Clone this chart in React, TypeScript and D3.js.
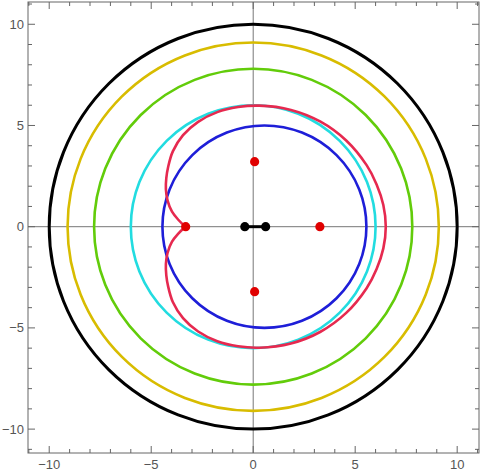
import React from "react";
import * as d3 from "d3";

const W = 480;
const H = 473;

// circles: center x, radius, colour, width
const circleCx = [0, 0, 0, 0, 0.55];
const circleR = [10, 9.1, 7.8, 6.0, 5.0];
const circleColors = ["#000000", "#D8BC00", "#62CC0A", "#22DCE0", "#1E1ED8"];
const circleWidths = [3, 2.6, 2.6, 2.6, 2.6];

// red curve, upper half, mirrored for lower half
const redUpper: [number, number][] = [
  [-3.33, 0], [-3.66, 0.33], [-3.98, 0.74], [-4.2, 1.3], [-4.28, 1.85],
  [-4.26, 2.4], [-4.17, 2.95], [-3.94, 3.72], [-3.44, 4.52], [-2.7, 5.18],
  [-1.76, 5.66], [-0.74, 5.91], [0.3, 5.98], [1.85, 5.77], [3.3, 5.19],
  [4.56, 4.26], [5.56, 3.04], [6.05, 2.09], [6.38, 1.07], [6.5, 0],
];

const redDots: [number, number][] = [[0.07, 3.21], [0.07, -3.21], [3.27, 0], [-3.31, 0]];
const blackDots: [number, number][] = [[-0.41, 0], [0.61, 0]];

const majorTicks = [-10, -5, 0, 5, 10];
const minorTicks = d3.range(-11, 12).filter((v) => v % 5 !== 0);

export default function App() {
  const left = 28, right = 479, top = 2, bottom = 453;
  const x = d3.scaleLinear().domain([-11.04, 11.07]).range([left, right]);
  const y = d3.scaleLinear().domain([-11.18, 11.1]).range([bottom, top]);

  const redAll: [number, number][] = [
    ...redUpper,
    ...redUpper.slice(0, -1).reverse().map(([a, b]) => [a, -b] as [number, number]),
  ];
  const redPath = d3
    .line<[number, number]>()
    .x((d) => x(d[0]))
    .y((d) => y(d[1]))
    .curve(d3.curveCatmullRom.alpha(0.5))(redAll) as string;

  const frameColor = "#666";
  const labelColor = "#555";
  const font = "Liberation Sans, Arial, sans-serif";

  return (
    <svg
      width={W}
      height={H}
      style={{ position: "absolute", left: 0, top: 0, background: "#fff" }}
    >
      <rect x={0} y={0} width={W} height={H} fill="#fff" />
      {/* axes through origin */}
      <line x1={left} x2={right} y1={y(0)} y2={y(0)} stroke="#777" strokeWidth={1} />
      <line x1={x(0)} x2={x(0)} y1={top} y2={bottom} stroke="#777" strokeWidth={1} />

      {circleR.map((r, i) => (
        <ellipse
          key={i}
          cx={x(circleCx[i])}
          cy={y(0)}
          rx={x(r) - x(0)}
          ry={y(0) - y(r)}
          fill="none"
          stroke={circleColors[i]}
          strokeWidth={circleWidths[i]}
        />
      ))}
      <path d={redPath} fill="none" stroke="#E6294F" strokeWidth={2.6} />

      <line
        x1={x(blackDots[0][0])}
        x2={x(blackDots[1][0])}
        y1={y(0)}
        y2={y(0)}
        stroke="#000"
        strokeWidth={3}
      />
      {blackDots.map((d, i) => (
        <circle key={"b" + i} cx={x(d[0])} cy={y(d[1])} r={4.6} fill="#000" />
      ))}
      {redDots.map((d, i) => (
        <circle key={"r" + i} cx={x(d[0])} cy={y(d[1])} r={4.6} fill="#E00000" />
      ))}

      {/* frame */}
      <rect x={left} y={top} width={right - left} height={bottom - top} fill="none" stroke={frameColor} strokeWidth={1} />
      {majorTicks.map((t) => (
        <g key={"M" + t}>
          <line x1={x(t)} x2={x(t)} y1={bottom} y2={bottom - 7} stroke={frameColor} />
          <line x1={x(t)} x2={x(t)} y1={top} y2={top + 7} stroke={frameColor} />
          <line x1={left} x2={left + 7} y1={y(t)} y2={y(t)} stroke={frameColor} />
          <line x1={right} x2={right - 7} y1={y(t)} y2={y(t)} stroke={frameColor} />
          <text x={x(t)} y={bottom + 16} textAnchor="middle" fontSize={13} fill={labelColor} fontFamily={font}>
            {t < 0 ? "\u2212" + Math.abs(t) : String(t)}
          </text>
          <text x={left - 4} y={y(t) + 4.5} textAnchor="end" fontSize={13} fill={labelColor} fontFamily={font}>
            {t < 0 ? "\u2212" + Math.abs(t) : String(t)}
          </text>
        </g>
      ))}
      {minorTicks.map((t) => (
        <g key={"m" + t}>
          <line x1={x(t)} x2={x(t)} y1={bottom} y2={bottom - 4} stroke={frameColor} />
          <line x1={x(t)} x2={x(t)} y1={top} y2={top + 4} stroke={frameColor} />
          <line x1={left} x2={left + 4} y1={y(t)} y2={y(t)} stroke={frameColor} />
          <line x1={right} x2={right - 4} y1={y(t)} y2={y(t)} stroke={frameColor} />
        </g>
      ))}
    </svg>
  );
}
